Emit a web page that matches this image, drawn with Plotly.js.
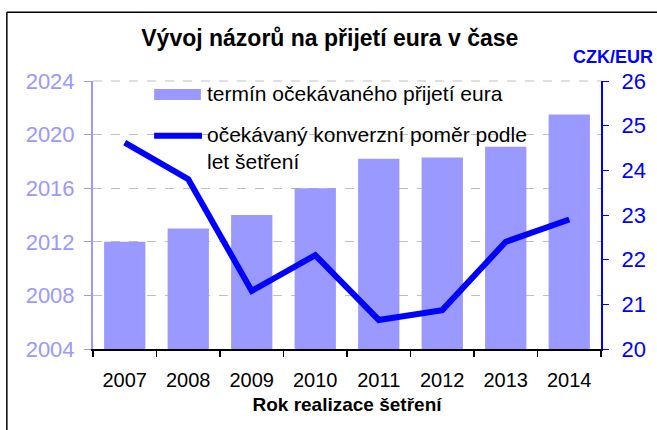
<!DOCTYPE html>
<html>
<head>
<meta charset="utf-8">
<script src="https://cdn.plot.ly/plotly-3.0.1.min.js"></script>
<style>html,body{margin:0;padding:0;background:#fff;}#chart{width:657px;height:430px;}</style>
</head>
<body>
<div id="chart"></div>
<script>
const years = ["2007","2008","2009","2010","2011","2012","2013","2014"];
const expectedAdoption = [2012, 2013, 2014, 2016, 2018.2, 2018.3, 2019.1, 2021.5];
const expectedRate = [24.62, 23.8, 21.3, 22.1, 20.65, 20.87, 22.4, 22.9];
const barName = "termín očekávaného přijetí eura";
const lineName = "očekávaný konverzní poměr podle<br>let šetření";
const leftTicks = [2004, 2008, 2012, 2016, 2020, 2024];
const rightTicks = [20, 21, 22, 23, 24, 25, 26];
const chartTitle = "Vývoj názorů na přijetí eura v čase";
const xTitle = "Rok realizace šetření";
const rightUnit = "CZK/EUR";

const font = "Liberation Sans, Arial, sans-serif";
const barColor = "#9999ff";
const lineColor = "#0000ff";

const traces = [
  {
    type: "bar", x: years, base: 2004, y: expectedAdoption.map(v => v - 2004), name: barName,
    marker: {color: barColor}, width: 0.65, yaxis: "y", hoverinfo: "skip"
  },
  {
    type: "scatter", mode: "lines", x: years, y: expectedRate, name: lineName,
    line: {color: lineColor, width: 6}, yaxis: "y2", hoverinfo: "skip"
  }
];

const layout = {
  width: 657, height: 430,
  margin: {l: 93, r: 56, t: 81, b: 81},
  paper_bgcolor: "#ffffff", plot_bgcolor: "#ffffff",
  font: {family: font, size: 18, color: "#000"},
  showlegend: false,
  title: {text: "<b>" + chartTitle + "</b>", x: 0.502, xanchor: "center", y: 0.912, yanchor: "middle", font: {size: 23, family: font, color: "#000"}},
  xaxis: {
    type: "category", tickson: "boundaries", ticks: "outside", ticklen: 6, tickcolor: "#000", tickwidth: 1.5,
    showline: true, linecolor: "#000", linewidth: 2, showgrid: false,
    tickfont: {size: 20, color: "#000"}, ticklabelstandoff: 12,
    title: {text: "<b>" + xTitle + "</b>", font: {size: 19, color: "#000"}, standoff: 8}
  },
  yaxis: {
    range: [2004, 2024], tickvals: leftTicks, ticktext: leftTicks.map(String),
    showline: true, linecolor: barColor, linewidth: 2,
    ticks: "outside", ticklen: 7, tickcolor: barColor,
    tickfont: {size: 22, color: barColor}, ticklabelstandoff: 5,
    showgrid: true, gridcolor: "#bfbfbf", griddash: "dash", gridwidth: 1,
    zeroline: false
  },
  yaxis2: {
    overlaying: "y", side: "right", range: [20, 26], tickvals: rightTicks,
    showline: true, linecolor: lineColor, linewidth: 2,
    ticks: "outside", ticklen: 6, tickcolor: lineColor,
    tickfont: {size: 22, color: lineColor}, ticklabelstandoff: 8,
    showgrid: false, zeroline: false
  },
  annotations: [
    {text: "<b>" + rightUnit + "</b>", xref: "paper", yref: "paper", x: 1.0236, y: 1.09, xanchor: "center", yanchor: "middle", showarrow: false, font: {size: 18, color: lineColor, family: font}},
    {text: barName, xref: "paper", yref: "paper", x: 0.2209, y: 0.952, xanchor: "left", yanchor: "middle", showarrow: false, font: {size: 21, color: "#000", family: font}},
    {text: lineName, xref: "paper", yref: "paper", x: 0.2209, y: 0.749, xanchor: "left", yanchor: "middle", align: "left", showarrow: false, font: {size: 21, color: "#000", family: font}}
  ],
  shapes: [
    {type: "line", xref: "paper", yref: "paper", x0: 0, x1: 1, y0: 1, y1: 1, line: {color: "#bfbfbf", width: 1, dash: "dash"}, layer: "below"},
    {type: "rect", xref: "paper", yref: "paper", x0: 0.1203, x1: 0.2124, y0: 0.929, y1: 0.970, line: {width: 0}, fillcolor: barColor},
    {type: "line", xref: "paper", yref: "paper", x0: 0.1203, x1: 0.2146, y0: 0.7955, y1: 0.7955, line: {color: lineColor, width: 6}},
    {type: "line", xref: "paper", yref: "paper", x0: -0.1696, x1: -0.1696, y0: -0.35, y1: 1.2565, line: {color: "#000", width: 1.5}},
    {type: "line", xref: "paper", yref: "paper", x0: -0.1696, x1: 1.12, y0: 1.2565, y1: 1.2565, line: {color: "#000", width: 1.5}}
  ]
};

Plotly.newPlot("chart", traces, layout, {displayModeBar: false, staticPlot: true});
</script>
</body>
</html>
